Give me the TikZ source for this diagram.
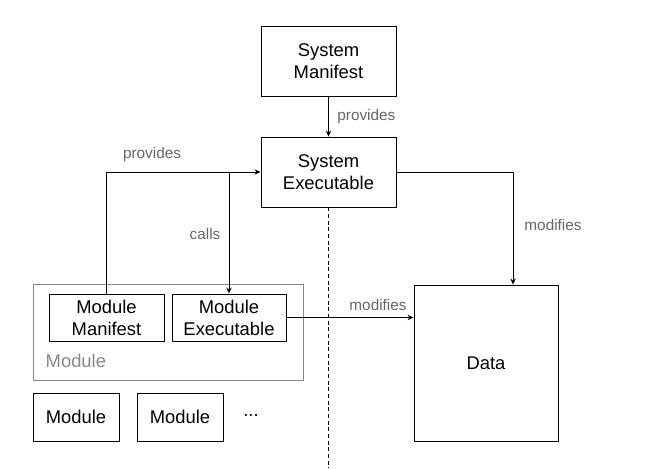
\documentclass[tikz,border=0pt]{standalone}
\usepackage{fontspec}
\setmainfont{Liberation Sans}
\usetikzlibrary{arrows.meta}

\definecolor{labelgray}{HTML}{666666}
\definecolor{framegray}{HTML}{888888}

\tikzset{
  box/.style={draw,line width=0.65pt,align=center,inner sep=0pt,
    font=\fontsize{13.8}{16.5}\selectfont},
  lbl/.style={text=labelgray,font=\fontsize{11.5}{14}\selectfont},
  arr/.style={-{Stealth[length=4.5pt,width=4pt]},line width=0.65pt}
}

\begin{document}
\begin{tikzpicture}[x=0.75pt,y=-0.75pt]
        \useasboundingbox (0,0) rectangle (657,468);

        % System side
        \node[box,minimum width=101.25pt,minimum height=52.5pt] (sysman) at (328.5,61) {System\\Manifest};
        \node[box,minimum width=101.25pt,minimum height=52.5pt] (sysexe) at (328.5,172) {System\\Executable};

        % Data
        \node[box,minimum width=108pt,minimum height=117pt] (data) at (486,363) {Data};

        % Module frame
        \draw[framegray,line width=0.65pt] (33,284) rectangle (303,380);
        \node[box,minimum width=86.25pt,minimum height=35.25pt] (modman) at (106.5,317.5) {Module\\Manifest};
        \node[box,minimum width=85.5pt,minimum height=35.25pt] (modexe) at (229,317.5) {Module\\Executable};
        \node[anchor=west,text=framegray,font=\fontsize{13.8}{16.5}\selectfont] (modlbl) at (41,361) {Module};

        % Other modules
        \node[box,minimum width=64.5pt,minimum height=36pt] (mod1) at (76,417) {Module};
        \node[box,minimum width=64.5pt,minimum height=36pt] (mod2) at (180,417) {Module};
        \node[font=\fontsize{13.8}{16.5}\selectfont] (dots) at (251,416) {...};

        % Arrows
        \draw[arr] (sysman) -- (sysexe) node[midway,right,lbl,xshift=3pt] {provides};
        \coordinate (bend) at (513,172);
        \draw[arr] (sysexe.east) -- (bend) -- (bend |- data.north);
        \node[lbl] (modlbl1) at (553,225) {modifies};
        \draw[arr] (modman.north) |- (sysexe.west);
        \node[lbl] (provlbl) at (152,155) {provides};
        \draw[arr] (modexe.north |- sysexe.west) -- (modexe.north);
        \node[lbl] (callslbl) at (205,234) {calls};
        \draw[arr] (modexe.east) -- (modexe.east -| data.west);
        \node[lbl] (modlbl2) at (378,305) {modifies};

        % Boundary
        \draw[dashed,dash pattern=on 3pt off 2pt,line width=0.6pt] (sysexe.south) -- (sysexe.south |- 0,468);
    \end{tikzpicture}
\end{document}
